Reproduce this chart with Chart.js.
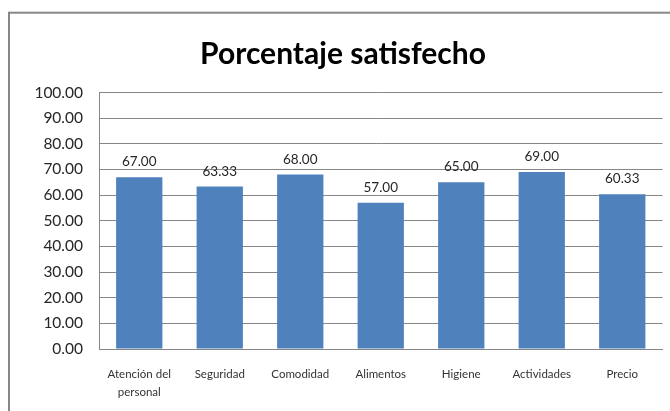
<!DOCTYPE html>
<html>
<head>
<meta charset="utf-8">
<script src="https://cdn.jsdelivr.net/npm/chart.js@4/dist/chart.umd.min.js"></script>
<style>
  html, body { margin: 0; padding: 0; background: #ffffff; }
  #wrap { width: 670px; height: 411px; }
</style>
</head>
<body>
<div id="wrap"><canvas id="c" width="670" height="411"></canvas></div>
<script>
const chartTitle = "Porcentaje satisfecho";
const categories = [["Atención del", "personal"], "Seguridad", "Comodidad", "Alimentos", "Higiene", "Actividades", "Precio"];
const values = [67.00, 63.33, 68.00, 57.00, 65.00, 69.00, 60.33];
const yMin = 0;
const yMax = 100;
const yStep = 10;

const framePlugin = {
  id: 'frame',
  beforeDraw(chart) {
    const ctx = chart.ctx;
    ctx.save();
    ctx.fillStyle = '#ffffff';
    ctx.fillRect(0, 0, chart.width, chart.height);
    ctx.strokeStyle = '#878787';
    ctx.lineWidth = 2;
    ctx.strokeRect(9, 12.7, 700, 500);
    ctx.restore();
  }
};

const titlePlugin = {
  id: 'customTitle',
  afterDraw(chart) {
    const ctx = chart.ctx;
    ctx.save();
    ctx.font = 'bold 31px Lato, "Open Sans", sans-serif';
    ctx.fillStyle = '#000000';
    ctx.textAlign = 'center';
    ctx.textBaseline = 'alphabetic';
    ctx.fillText(chartTitle, 343, 64.3, 286);
    ctx.restore();
  }
};

const valueLabelPlugin = {
  id: 'valueLabels',
  afterDatasetsDraw(chart) {
    const ctx = chart.ctx;
    const meta = chart.getDatasetMeta(0);
    ctx.save();
    ctx.font = '13.5px Lato, "Open Sans", sans-serif';
    ctx.fillStyle = '#262626';
    ctx.textAlign = 'center';
    ctx.textBaseline = 'alphabetic';
    meta.data.forEach((el, i) => {
      ctx.fillText(values[i].toFixed(2), el.x, el.y - 11);
    });
    ctx.restore();
  }
};

new Chart(document.getElementById('c'), {
  type: 'bar',
  data: {
    labels: categories,
    datasets: [{
      data: values,
      backgroundColor: '#4F81BD',
      borderWidth: 0,
      barPercentage: 0.575,
      categoryPercentage: 1.0
    }]
  },
  options: {
    responsive: false,
    animation: false,
    devicePixelRatio: 1,
    layout: { padding: { top: 92.5, left: 0, right: 7.5, bottom: 0 } },
    plugins: {
      legend: { display: false },
      title: { display: false },
      tooltip: { enabled: false }
    },
    scales: {
      x: {
        grid: { display: false, drawTicks: false },
        border: { display: true, color: '#868686', width: 1 },
        ticks: {
          padding: 16,
          color: '#333333',
          maxRotation: 0,
          autoSkip: false,
          font: { family: 'Lato, "Open Sans", sans-serif', size: 11.5, lineHeight: 1.6 }
        },
        afterFit(scale) { scale.height = 62; }
      },
      y: {
        min: yMin,
        max: yMax,
        grid: { color: '#868686', drawTicks: false, lineWidth: 1 },
        border: { display: true, color: '#868686', width: 1 },
        ticks: {
          stepSize: yStep,
          padding: 16,
          color: '#262626',
          font: { family: 'Lato, "Open Sans", sans-serif', size: 15.5 },
          callback: (v) => Number(v).toFixed(2)
        },
        afterFit(scale) { scale.width = 99; }
      }
    }
  },
  plugins: [framePlugin, titlePlugin, valueLabelPlugin]
});
</script>
</body>
</html>
